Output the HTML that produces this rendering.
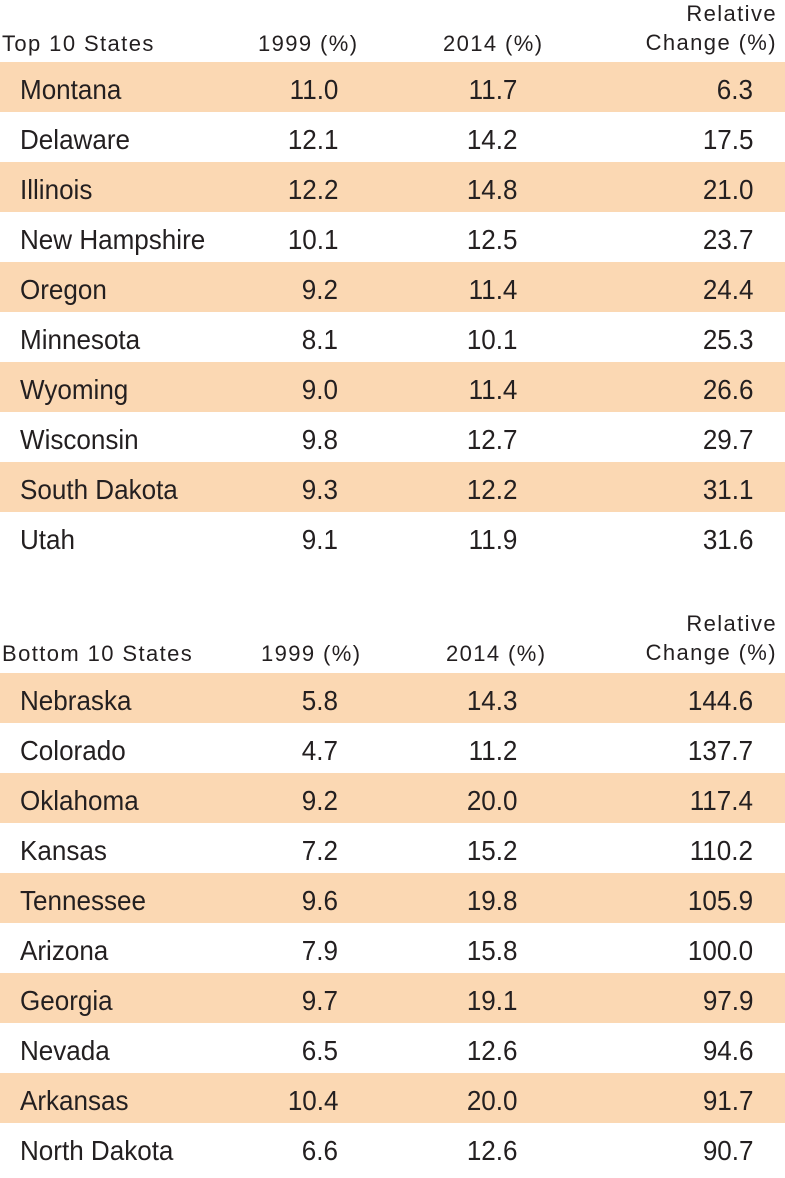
<!DOCTYPE html>
<html><head><meta charset="utf-8"><style>
body{margin:0;width:785px;height:1169px;overflow:hidden;background:#fff;font-family:"Liberation Sans",sans-serif;color:#231f20;position:relative}
.r{position:absolute;left:0;width:785px;height:50px}
.s{background:#fbd8b3}
.t{position:absolute;font-size:28px;line-height:55px;top:0;transform:scaleX(0.93)}
.n{left:20px;transform-origin:left}
.a{right:447px;transform-origin:right}.b{right:268px;transform-origin:right}.c{right:32px;transform-origin:right}
.h{position:absolute;font-size:22px;line-height:29px;letter-spacing:1.4px}
</style></head><body>
<div class="h" style="left:2px;top:29px">Top 10 States</div>
<div class="h" style="left:258px;top:29px">1999 (%)</div>
<div class="h" style="left:443px;top:29px">2014 (%)</div>
<div class="h" style="right:8px;top:-1px;text-align:right">Relative<br>Change (%)</div>
<div class="h" style="left:2px;top:639px">Bottom 10 States</div>
<div class="h" style="left:261px;top:639px">1999 (%)</div>
<div class="h" style="left:446px;top:639px">2014 (%)</div>
<div class="h" style="right:8px;top:609px;text-align:right">Relative<br>Change (%)</div>
<div id="rows"></div>
<script>
var d1=[["Montana","11.0","11.7","6.3"],["Delaware","12.1","14.2","17.5"],["Illinois","12.2","14.8","21.0"],["New Hampshire","10.1","12.5","23.7"],["Oregon","9.2","11.4","24.4"],["Minnesota","8.1","10.1","25.3"],["Wyoming","9.0","11.4","26.6"],["Wisconsin","9.8","12.7","29.7"],["South Dakota","9.3","12.2","31.1"],["Utah","9.1","11.9","31.6"]];
var d2=[["Nebraska","5.8","14.3","144.6"],["Colorado","4.7","11.2","137.7"],["Oklahoma","9.2","20.0","117.4"],["Kansas","7.2","15.2","110.2"],["Tennessee","9.6","19.8","105.9"],["Arizona","7.9","15.8","100.0"],["Georgia","9.7","19.1","97.9"],["Nevada","6.5","12.6","94.6"],["Arkansas","10.4","20.0","91.7"],["North Dakota","6.6","12.6","90.7"]];
var h="";
function add(d,top){d.forEach(function(r,i){h+='<div class="r'+(i%2==0?' s':'')+'" style="top:'+(top+i*50)+'px"><span class="t n">'+r[0]+'</span><span class="t a">'+r[1]+'</span><span class="t b">'+r[2]+'</span><span class="t c">'+r[3]+'</span></div>';});}
add(d1,62);add(d2,673);
document.getElementById("rows").innerHTML=h;
</script>
</body></html>
